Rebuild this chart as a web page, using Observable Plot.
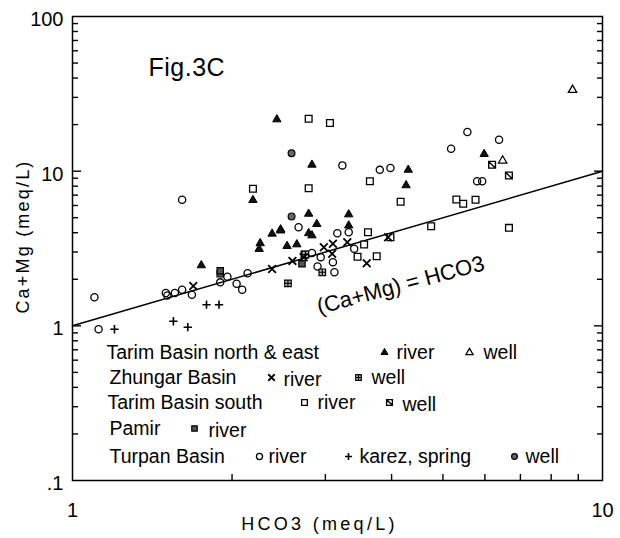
<!DOCTYPE html>
<html>
<head>
<meta charset="utf-8">
<script src="https://cdn.jsdelivr.net/npm/d3@7"></script>
<script src="https://cdn.jsdelivr.net/npm/@observablehq/plot@0.6"></script>
<style>
  body { margin: 0; background: #fff; }
  #chart { width: 620px; height: 538px; }
</style>
</head>
<body>
<div id="chart"></div>
<script>
// ---------------- DATA ----------------
// Tarim Basin north & east
const tarimNERiverHCO3 = [2.43, 2.83, 4.30, 4.26, 5.98, 2.19, 2.79, 3.32, 3.32, 2.89, 2.79, 2.83, 2.47, 2.38, 2.47, 2.26, 2.25, 2.54, 2.65, 1.75];
const tarimNERiverCaMg = [21.6, 11.0, 10.2, 8.1, 12.9, 6.5, 5.3, 5.25, 4.45, 4.55, 3.97, 3.84, 4.2, 3.94, 4.13, 3.42, 3.14, 3.28, 3.36, 2.46];
const tarimNEWellHCO3 = [8.78, 6.48];
const tarimNEWellCaMg = [33.5, 11.7];
// Zhungar Basin
const zhungarRiverHCO3 = [1.69, 2.38, 2.60, 2.73, 2.98, 3.10, 3.09, 3.30, 3.59, 3.94];
const zhungarRiverCaMg = [1.81, 2.33, 2.63, 2.78, 3.22, 3.39, 2.92, 3.47, 2.54, 3.74];
const zhungarWellHCO3 = [2.55, 2.75, 2.96];
const zhungarWellCaMg = [1.88, 2.89, 2.22];
// Tarim Basin south
const tarimSRiverHCO3 = [2.79, 3.06, 2.19, 2.79, 3.64, 4.16, 5.30, 5.46, 5.76, 4.75, 6.66, 3.61, 3.55, 3.98, 3.45, 3.75, 2.74];
const tarimSRiverCaMg = [21.8, 20.5, 7.7, 7.76, 8.6, 6.35, 6.56, 6.15, 6.53, 4.41, 4.3, 4.03, 3.36, 3.74, 2.8, 2.82, 2.89];
const tarimSWellHCO3 = [6.19, 6.66];
const tarimSWellCaMg = [11.0, 9.37];
// Pamir
const pamirRiverHCO3 = [1.90, 1.90, 2.71];
const pamirRiverCaMg = [2.17, 2.27, 2.52];
// Turpan Basin
const turpanRiverHCO3 = [1.10, 1.12, 1.61, 1.50, 1.51, 1.56, 1.61, 1.68, 1.90, 1.96, 2.04, 2.09, 2.14, 2.67, 2.83, 2.90, 2.94, 3.16, 3.10, 3.12, 3.32, 3.40, 3.23, 3.80, 3.98, 5.18, 5.56, 6.38, 5.80, 5.93];
const turpanRiverCaMg = [1.53, 0.95, 6.53, 1.63, 1.57, 1.63, 1.71, 1.59, 1.91, 2.08, 1.87, 1.71, 2.19, 4.34, 2.96, 2.42, 2.78, 3.97, 2.58, 2.22, 4.03, 3.15, 10.9, 10.2, 10.5, 13.95, 17.9, 15.95, 8.6, 8.6];
const turpanKarezHCO3 = [1.20, 1.55, 1.65, 1.79, 1.89];
const turpanKarezCaMg = [0.95, 1.07, 0.98, 1.37, 1.37];
const turpanWellHCO3 = [2.59, 2.59];
const turpanWellCaMg = [13.05, 5.1];

// Identity line (Ca+Mg) = HCO3
const identityHCO3 = [1, 10];
const identityCaMg = [1, 10];

// Axis ticks and labels
const xTickValues = [1, 10];
const xTickLabels = ["1", "10"];
const xMinorTicks = [2, 3, 4, 5, 6, 7, 8, 9];
const yTickValues = [0.1, 1, 10, 100];
const yTickLabels = [".1", "1", "10", "100"];
const yMinorTicks = [0.2, 0.3, 0.4, 0.5, 0.6, 0.7, 0.8, 0.9, 2, 3, 4, 5, 6, 7, 8, 9, 20, 30, 40, 50, 60, 70, 80, 90];
const yMajorInner = [1, 10];

// Texts
const figTitle = "Fig.3C";
const xLabel = "HCO3 (meq/L)";
const yLabel = "Ca+Mg (meq/L)";
const lineLabel = "(Ca+Mg) = HCO3";
const lineLabelAt = [4.16, 1.83];

// Legend
const legendGroups = ["Tarim Basin north & east", "Zhungar Basin", "Tarim Basin south", "Pamir", "Turpan Basin"];
const legendEntries = [
  ["tarimNERiver", "river"], ["tarimNEWell", "well"],
  ["zhungarRiver", "river"], ["zhungarWell", "well"],
  ["tarimSRiver", "river"], ["tarimSWell", "well"],
  ["pamirRiver", "river"],
  ["turpanRiver", "river"], ["turpanKarez", "karez, spring"], ["turpanWell", "well"]
];

// ---------------- STYLES / LAYOUT ----------------
const font = "'Liberation Sans', Arial, sans-serif";
const W = 620, H = 538, ML = 72, MR = 18, MT = 16, MB = 58;

function squareWith(extra) {
  return {
    draw(ctx, size) {
      const s = Math.sqrt(size) / 2;
      ctx.moveTo(-s, -s); ctx.lineTo(s, -s); ctx.lineTo(s, s); ctx.lineTo(-s, s); ctx.closePath();
      if (extra === "plus") { ctx.moveTo(0, -s); ctx.lineTo(0, s); ctx.moveTo(-s, 0); ctx.lineTo(s, 0); }
      if (extra === "diag") { ctx.moveTo(-s, -s); ctx.lineTo(s, s); }
    }
  };
}

const styles = {
  tarimNERiver: {symbol: "triangle", r: 3.1, fill: "#111", stroke: "black", strokeWidth: 1},
  tarimNEWell: {symbol: "triangle", r: 3.1, fill: "white", stroke: "black", strokeWidth: 1.3},
  zhungarRiver: {symbol: "times", r: 3.6, fill: "none", stroke: "black", strokeWidth: 1.8},
  zhungarWell: {symbol: squareWith("plus"), r: 3.7, fill: "#bbb", stroke: "black", strokeWidth: 1.2},
  tarimSRiver: {symbol: "square", r: 3.8, fill: "white", stroke: "black", strokeWidth: 1.3},
  tarimSWell: {symbol: squareWith("diag"), r: 3.8, fill: "white", stroke: "black", strokeWidth: 1.4},
  pamirRiver: {symbol: "square", r: 3.6, fill: "#555", stroke: "black", strokeWidth: 1.2},
  turpanRiver: {symbol: "circle", r: 3.6, fill: "none", stroke: "black", strokeWidth: 1.3},
  turpanKarez: {symbol: "plus", r: 2.8, fill: "none", stroke: "black", strokeWidth: 1.6},
  turpanWell: {symbol: "circle", r: 3.4, fill: "#666", stroke: "black", strokeWidth: 1.2}
};

const seriesData = {
  tarimNERiver: [tarimNERiverHCO3, tarimNERiverCaMg],
  tarimNEWell: [tarimNEWellHCO3, tarimNEWellCaMg],
  zhungarRiver: [zhungarRiverHCO3, zhungarRiverCaMg],
  zhungarWell: [zhungarWellHCO3, zhungarWellCaMg],
  tarimSRiver: [tarimSRiverHCO3, tarimSRiverCaMg],
  tarimSWell: [tarimSWellHCO3, tarimSWellCaMg],
  pamirRiver: [pamirRiverHCO3, pamirRiverCaMg],
  turpanRiver: [turpanRiverHCO3, turpanRiverCaMg],
  turpanKarez: [turpanKarezHCO3, turpanKarezCaMg],
  turpanWell: [turpanWellHCO3, turpanWellCaMg]
};

// legend layout (pixels relative to frame's top-left)
const legendRowDy = [336, 361, 386, 412, 440];
const legendGroupDx = [34, 37, 35, 37, 37];
const legendRowOf = [0, 0, 1, 1, 2, 2, 3, 4, 4, 4];
const legendSymDx = [312, 397, 199, 286, 232, 317, 122, 187, 276, 442];
const legendTextDx = [324, 411, 211, 299, 245, 330, 136, 196, 287, 453];
const legendTextDy = [0, 0, 2, 0, 0, 2, 2, 0, 0, 0];

// ---------------- MARKS ----------------
const marks = [];

marks.push(Plot.line(identityHCO3.map((x, i) => ({x, y: identityCaMg[i]})), {x: "x", y: "y", stroke: "black", strokeWidth: 1.5}));

const drawOrder = ["tarimSRiver", "turpanRiver", "zhungarWell", "tarimSWell", "pamirRiver", "zhungarRiver", "turpanKarez", "tarimNERiver", "tarimNEWell", "turpanWell"];
for (const key of drawOrder) {
  const [xs, ys] = seriesData[key];
  const pts = xs.map((x, i) => ({x, y: ys[i]}));
  marks.push(Plot.dot(pts, {x: "x", y: "y", ...styles[key]}));
}

// frame
marks.push(Plot.frame({stroke: "black", strokeWidth: 1.5}));

// inward ticks (axis ticks pointing into the frame)
const noText = () => "";
marks.push(Plot.axisY(yMinorTicks, {anchor: "left", tickSize: -6, tickFormat: noText, label: null, stroke: "black", strokeWidth: 1.4}));
marks.push(Plot.axisY(yMinorTicks, {anchor: "right", tickSize: -6, tickFormat: noText, label: null, stroke: "black", strokeWidth: 1.4}));
marks.push(Plot.axisY(yMajorInner, {anchor: "left", tickSize: -9, tickFormat: noText, label: null, stroke: "black", strokeWidth: 1.4}));
marks.push(Plot.axisY(yMajorInner, {anchor: "right", tickSize: -9, tickFormat: noText, label: null, stroke: "black", strokeWidth: 1.4}));
marks.push(Plot.axisX(xMinorTicks, {anchor: "bottom", tickSize: -6, tickFormat: noText, label: null, stroke: "black", strokeWidth: 1.4}));

// tick labels
marks.push(Plot.axisY(yTickValues, {anchor: "left", tickSize: 0, tickPadding: 9, dy: 3, fontSize: 20,
  tickFormat: d => yTickLabels[yTickValues.indexOf(d)], label: null}));
marks.push(Plot.axisX(xTickValues, {anchor: "bottom", tickSize: 0, tickPadding: 22, fontSize: 20,
  tickFormat: d => xTickLabels[xTickValues.indexOf(d)], label: null}));

// axis labels
marks.push(Plot.text([yLabel], {text: d => d, frameAnchor: "left", dx: -49, dy: -12, rotate: -90, fontSize: 18, textAnchor: "middle", lineAnchor: "middle"}));
marks.push(Plot.text([xLabel], {text: d => d, frameAnchor: "bottom", dx: -18, dy: 44, fontSize: 18, textAnchor: "middle", lineAnchor: "middle"}));

// annotations
marks.push(Plot.text([figTitle], {text: d => d, frameAnchor: "top-left", dx: 76, dy: 42, fontSize: 25, textAnchor: "start", lineAnchor: "top"}));
marks.push(Plot.text([{x: lineLabelAt[0], y: lineLabelAt[1], t: lineLabel}], {x: "x", y: "y", text: "t", rotate: -15, fontSize: 22, textAnchor: "middle", lineAnchor: "middle"}));

// legend
legendGroups.forEach((g, i) => {
  marks.push(Plot.text([g], {text: d => d, frameAnchor: "top-left", dx: legendGroupDx[i], dy: legendRowDy[i], fontSize: 19.5, textAnchor: "start", lineAnchor: "middle"}));
});
legendEntries.forEach(([key, label], i) => {
  const row = legendRowOf[i];
  const st = styles[key];
  marks.push(Plot.dot([0], {frameAnchor: "top-left", dx: legendSymDx[i], dy: legendRowDy[row], ...st, r: st.r * 0.85}));
  marks.push(Plot.text([label], {text: d => d, frameAnchor: "top-left", dx: legendTextDx[i], dy: legendRowDy[row] + legendTextDy[i], fontSize: 19.5, textAnchor: "start", lineAnchor: "middle"}));
});

const chart = Plot.plot({
  width: W,
  height: H,
  marginLeft: ML,
  marginRight: MR,
  marginTop: MT,
  marginBottom: MB,
  style: {fontFamily: font, fontSize: "20px", color: "black", background: "white"},
  x: {type: "log", domain: [1, 10]},
  y: {type: "log", domain: [0.1, 100]},
  marks
});

d3.select(chart).selectAll("text").each(function () {
  const t = this.textContent;
  if (t === xLabel) this.setAttribute("letter-spacing", "3.3");
  if (t === yLabel) this.setAttribute("letter-spacing", "2.2");
  if (t === figTitle) this.setAttribute("letter-spacing", "0.5");
});

document.getElementById("chart").appendChild(chart);
</script>
</body>
</html>
